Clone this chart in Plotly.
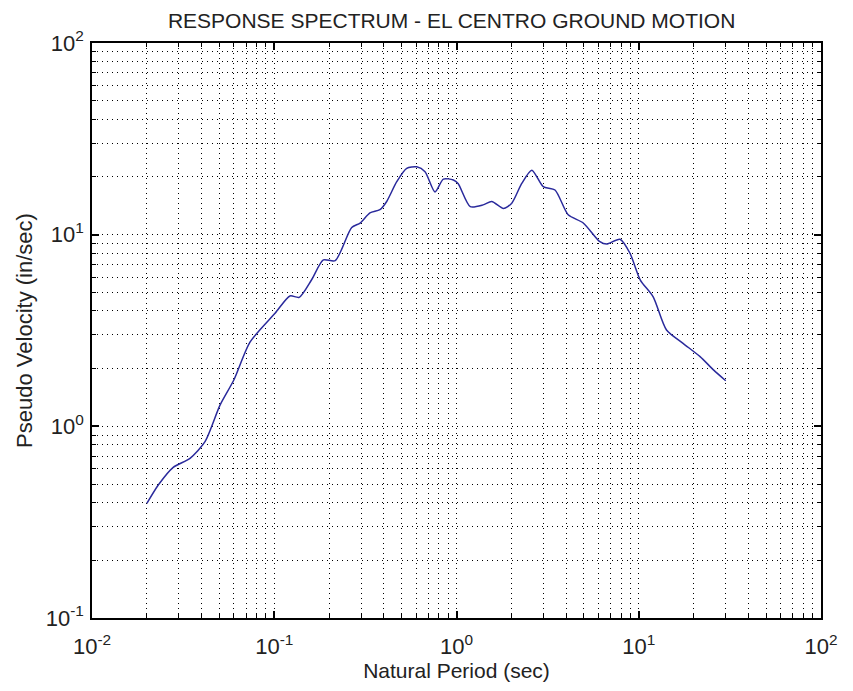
import plotly.graph_objects as go

period = [0.020, 0.0231, 0.0279, 0.0345, 0.0417, 0.0504, 0.0601, 0.0736, 0.101, 0.122,
          0.137, 0.160, 0.186, 0.216, 0.266, 0.296, 0.335, 0.380, 0.414, 0.470,
          0.533, 0.605, 0.672, 0.762, 0.847, 0.961, 1.02, 1.19, 1.40, 1.56,
          1.81, 2.01, 2.28, 2.59, 2.99, 3.47, 4.10, 4.96, 6.12, 6.66,
          7.89, 8.95, 10.2, 12.0, 14.2, 17.5, 21.7, 25.7, 30.0]
pseudo_velocity = [0.396, 0.494, 0.611, 0.681, 0.832, 1.29, 1.75, 2.75, 3.89, 4.79,
                   4.71, 5.80, 7.38, 7.32, 10.9, 11.5, 13.0, 13.5, 14.9, 18.9,
                   22.2, 22.6, 21.3, 16.7, 19.5, 19.3, 18.5, 14.0, 14.3, 14.9,
                   13.7, 14.6, 18.5, 21.7, 17.8, 17.1, 12.7, 11.5, 9.19, 8.93,
                   9.46, 8.00, 5.80, 4.74, 3.18, 2.71, 2.31, 1.97, 1.73]

x_tick_vals = [0.01, 0.1, 1, 10, 100]
x_tick_text = ["10<sup>-2</sup>", "10<sup>-1</sup>", "10<sup>0</sup>", "10<sup>1</sup>", "10<sup>2</sup>"]
y_tick_vals = [0.1, 1, 10, 100]
y_tick_text = ["10<sup>-1</sup>", "10<sup>0</sup>", "10<sup>1</sup>", "10<sup>2</sup>"]

FONT = "Liberation Sans, Arial, sans-serif"
TXT = "#222"

fig = go.Figure()
fig.add_trace(go.Scatter(x=period, y=pseudo_velocity, mode="lines",
                         line=dict(color="#2a2a9c", width=1.5, shape="spline", smoothing=0.7),
                         showlegend=False))

axis_common = dict(
    type="log", showline=True, linecolor="black", linewidth=1.5, mirror="allticks",
    ticks="inside", ticklen=7, tickcolor="black", tickwidth=1.5,
    showgrid=True, gridcolor="black", griddash="1px,4px", gridwidth=1,
    zeroline=False,
    minor=dict(dtick="D1", ticks="inside", ticklen=4, tickcolor="black", tickwidth=1.2,
               showgrid=True, gridcolor="black", griddash="1px,4px", gridwidth=1),
    tickfont=dict(family=FONT, size=22, color=TXT),
)

fig.update_xaxes(**axis_common, range=[-2, 2], tickvals=x_tick_vals, ticktext=x_tick_text,
                 ticklabelstandoff=8,
                 title=dict(text="Natural Period (sec)", standoff=0,
                            font=dict(family=FONT, size=21, color=TXT)))
fig.update_yaxes(**axis_common, range=[-1, 2], tickvals=y_tick_vals, ticktext=y_tick_text,
                 ticklabelstandoff=2,
                 title=dict(text="Pseudo Velocity (in/sec)", standoff=7,
                            font=dict(family=FONT, size=22, color=TXT)))

fig.update_layout(
    width=845, height=683,
    margin=dict(l=84, r=32, t=35, b=73),
    paper_bgcolor="white", plot_bgcolor="white",
    title=dict(text="RESPONSE SPECTRUM - EL CENTRO GROUND MOTION", x=0.525, xanchor="center",
               yref="container", y=1 - 13 / 683, yanchor="middle",
               font=dict(family=FONT, size=21, color=TXT)),
)

fig.write_html("out.html")
